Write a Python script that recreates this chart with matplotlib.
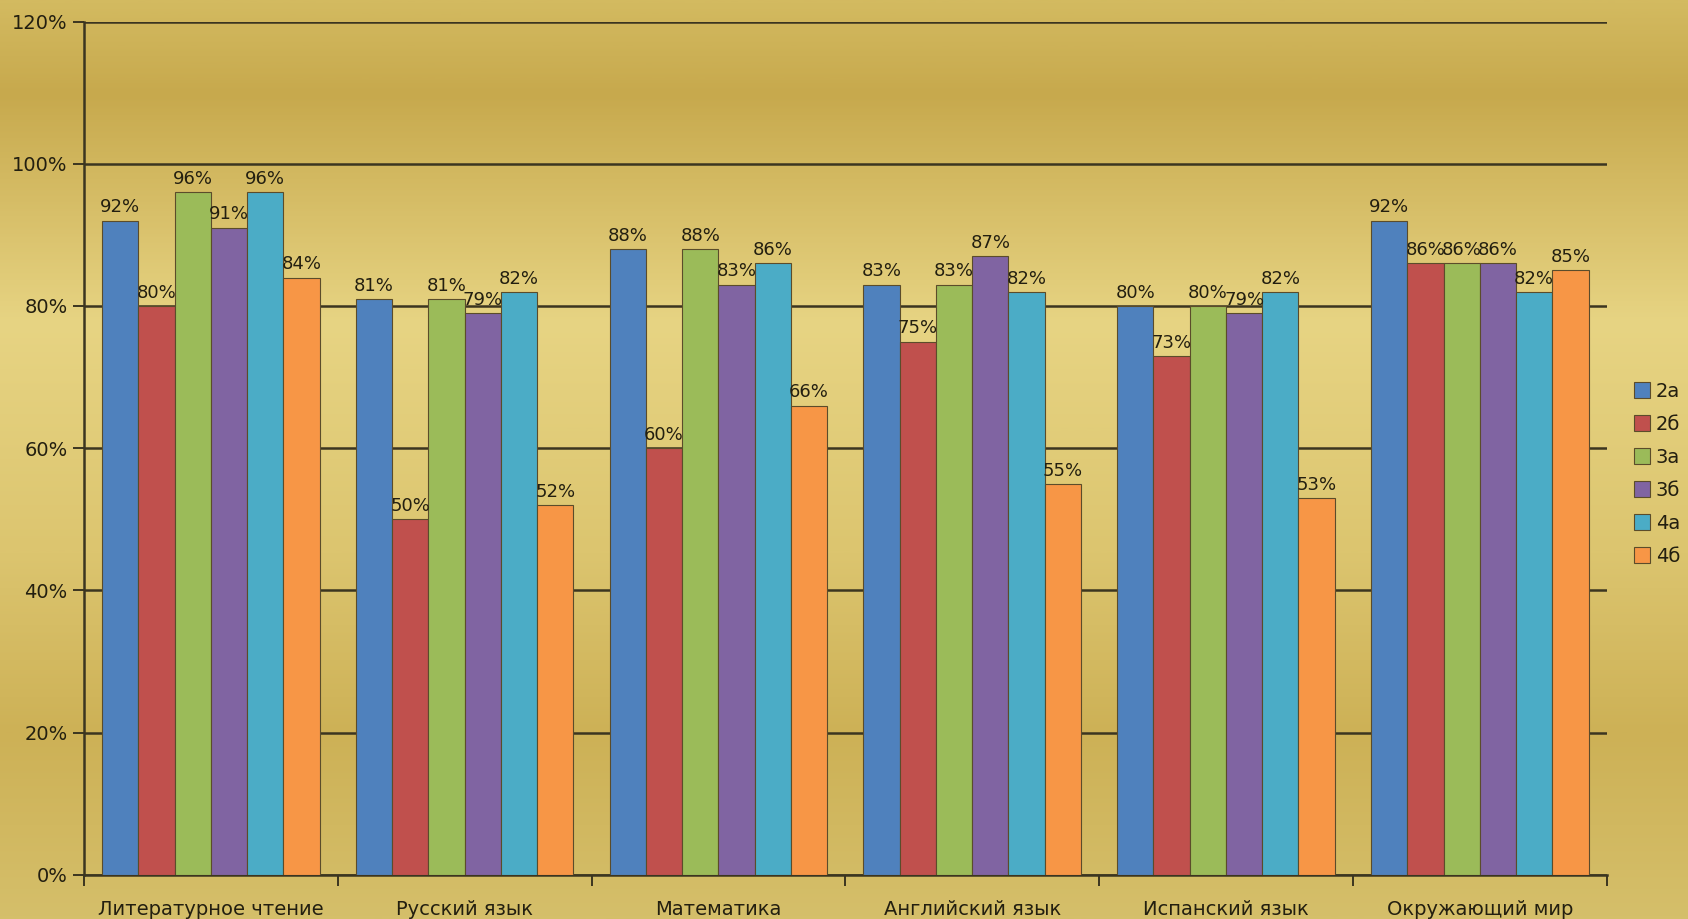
import numpy as np
import matplotlib
matplotlib.use("Agg")
import matplotlib.pyplot as plt
from matplotlib.colors import LinearSegmentedColormap

# subjects and classes
subjects = ["Литературное чтение", "Русский язык", "Математика",
            "Английский язык", "Испанский язык", "Окружающий мир"]
classes = ["2а", "2б", "3а", "3б", "4а", "4б"]

# percent per class, one list per class (in subject order)
v_2a = [92, 81, 88, 83, 80, 92]
v_2b = [80, 50, 60, 75, 73, 86]
v_3a = [96, 81, 88, 83, 80, 86]
v_3b = [91, 79, 83, 87, 79, 86]
v_4a = [96, 82, 86, 82, 82, 82]
v_4b = [84, 52, 66, 55, 53, 85]
series = [v_2a, v_2b, v_3a, v_3b, v_4a, v_4b]

colors = ["#4f81bd", "#c0504d", "#9bbb59", "#8064a2", "#4bacc6", "#f79646"]
text_col = "#231f10"
line_col = "#3b3520"

plt.rcParams['font.family'] = ['DejaVu Sans']

fig = plt.figure(figsize=(16.88, 9.19), dpi=100)

# gold gradient background
bg = fig.add_axes([0, 0, 1, 1], zorder=-10)
stops = [(0.0, "#d3ba60"), (0.10, "#c7a94d"), (0.35, "#e7d483"),
         (0.60, "#dcc56f"), (0.80, "#cdb156"), (1.0, "#d5bf6a")]
cmap = LinearSegmentedColormap.from_list("gold", stops)
grad = np.linspace(0, 1, 400).reshape(-1, 1)
bg.imshow(grad, aspect="auto", cmap=cmap, extent=[0, 1, 0, 1], origin="upper")
bg.axis("off")

ax = fig.add_axes([0.0498, 0.0479, 0.902, 0.9287])
ax.set_facecolor("none")

n = len(classes)
width = 1.0 / (n + 1)
x = np.arange(len(subjects))
bars = []
for i, (vals, c, lab) in enumerate(zip(series, colors, classes)):
    pos = x + (i - (n - 1) / 2) * width
    b = ax.bar(pos, vals, width=width, color=c, edgecolor="#5b4c2a",
               linewidth=0.8, label=lab, zorder=3)
    bars.append(b)
    for p, v in zip(pos, vals):
        ax.text(p, v + 0.6, f"{v}%", ha="center", va="bottom",
                fontsize=13, color=text_col, zorder=5)

ax.set_xlim(-0.5, len(subjects) - 0.5)
ax.set_ylim(0, 120)
ax.set_yticks(range(0, 121, 20))
ax.set_yticklabels([f"{t}%" for t in range(0, 121, 20)])
ax.yaxis.grid(True, color=line_col, linewidth=1.8, zorder=1)
ax.set_axisbelow(True)

# group labels centred, ticks at group boundaries
ax.set_xticks(x)
ax.set_xticklabels(subjects)
ax.set_xticks(np.arange(-0.5, len(subjects), 1.0), minor=True)
ax.tick_params(axis="x", which="major", length=0, pad=18, labelsize=14,
               labelcolor=text_col)
ax.tick_params(axis="x", which="minor", length=8, width=1.4, color=line_col)
ax.tick_params(axis="y", length=8, width=1.4, color=line_col, labelsize=14,
               labelcolor=text_col, pad=4)

for s in ["top", "right"]:
    ax.spines[s].set_visible(False)
for s in ["left", "bottom"]:
    ax.spines[s].set_color(line_col)
    ax.spines[s].set_linewidth(1.8)

fig.legend(handles=bars, labels=classes, loc="upper left",
           bbox_to_anchor=(0.962, 0.595), frameon=False, fontsize=14,
           handlelength=0.85, handleheight=0.85, handletextpad=0.3,
           labelspacing=0.72, borderpad=0, labelcolor=text_col)

fig.savefig("out.png", dpi=100)
